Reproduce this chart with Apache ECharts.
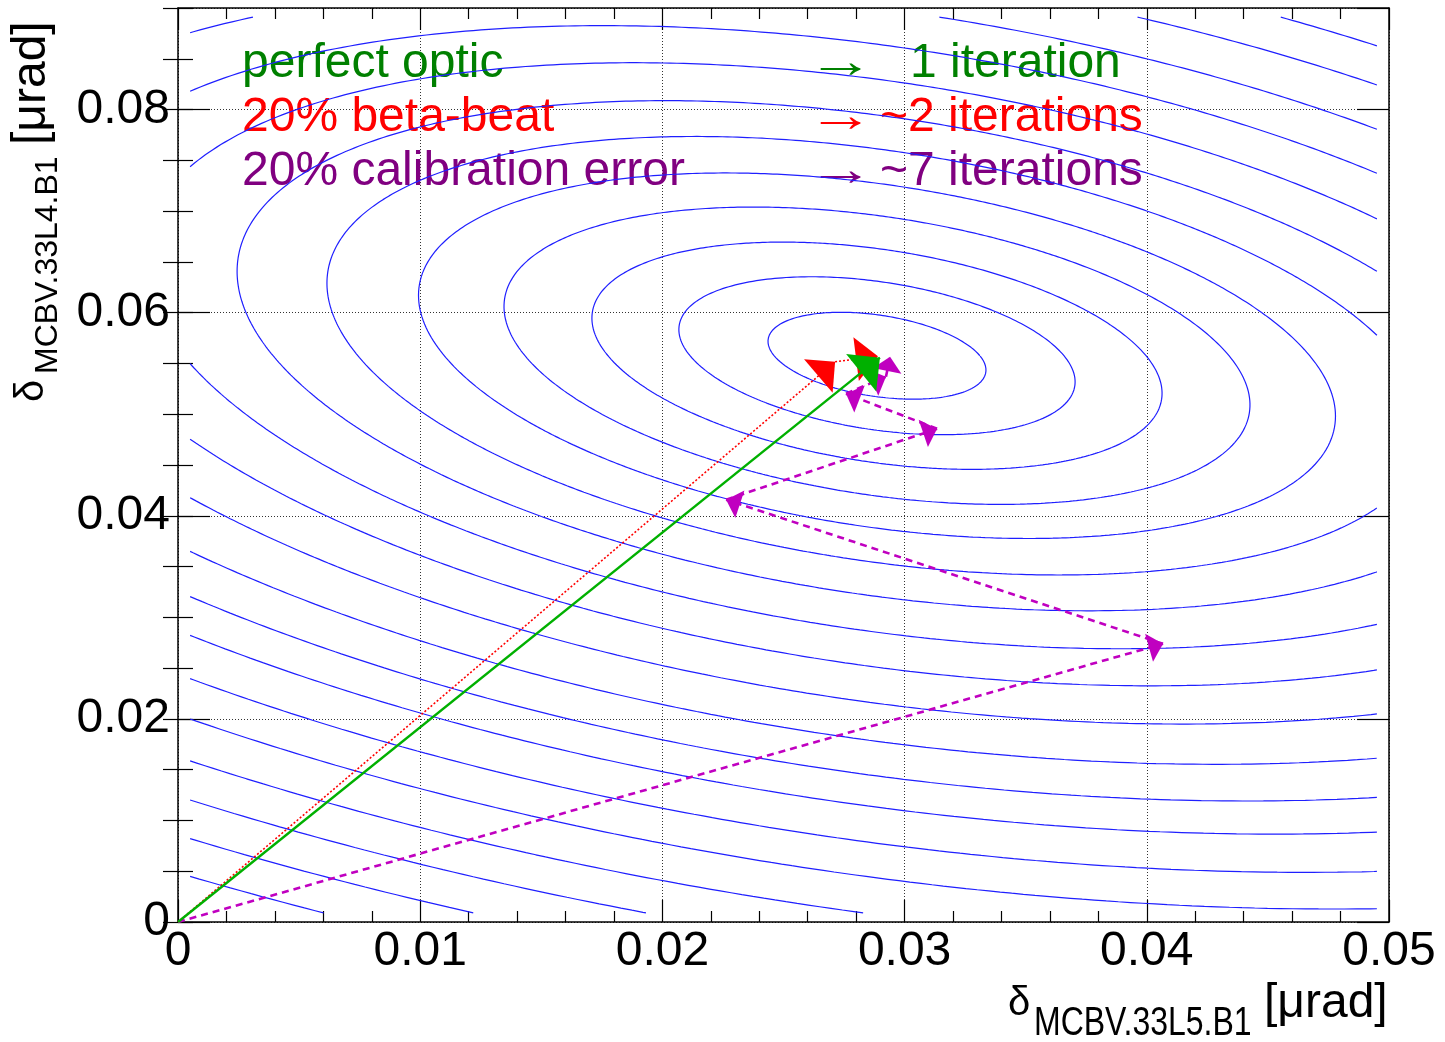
<!DOCTYPE html>
<html>
<head>
<meta charset="utf-8">
<title>orbit correction iterations</title>
<style>
    html, body { margin: 0; padding: 0; background: #fff; }
    #chart { width: 1445px; height: 1042px; }
</style>
</head>
<body>
<div id="chart"></div>
<script src="https://cdn.jsdelivr.net/npm/echarts@6/dist/echarts.min.js"></script>
<script type="text/javascript">
    // axis ranges
    var xRange = [0, 0.05];
    var yRange = [0, 0.09];

    // contour map: centre of the ellipses, shape (dx^2, 2dxdy, dy^2) and the x half-width of every level
    var contourCentre = [0.02886, 0.05576];
    var contourShape = [1, 0.3478, 1.1065];
    var contourHalfWidths = [0.00450, 0.00818, 0.01177, 0.01540, 0.01893, 0.02271, 0.02642,
        0.03035, 0.03419, 0.03815, 0.04232, 0.04612, 0.04955, 0.05351, 0.05731, 0.06135,
        0.06519, 0.06903, 0.07283];
    // histogram bin centres, the contours stop there
    var histX = [0.0005, 0.0495];
    var histY = [0.0009, 0.0891];

    // correction steps
    var perfectPath = [[0, 0], [0.02898, 0.05557]];
    var betaBeatPath = [[0, 0], [0.02713, 0.05517], [0.02890, 0.05570]];
    var calibPath = [[0, 0], [0.04067, 0.02739], [0.02263, 0.04158], [0.03134, 0.04857],
        [0.02758, 0.05202], [0.02923, 0.05369], [0.02940, 0.05567]];

    var caseNames = ['perfect optic', '20% beta-beat', '20% calibration error'];
    var caseIterations = ['1 iteration', '~2 iterations', '~7 iterations'];
    var caseColors = ['#008000', '#ff0000', '#800080'];

    var font = 'Liberation Sans, Arial, Helvetica, sans-serif';

    //one ellipse of the map
    function ellipse(w) {
        var a = contourShape[0], b = contourShape[1], c = contourShape[2];
        var q = w * w * (a - b * b / c);
        var pts = [];
        for (var i = 0; i <= 720; i++) {
            var t = i / 720 * 2 * Math.PI;
            var co = Math.cos(t), si = Math.sin(t);
            var r = Math.sqrt(q / (a * co * co + 2 * b * co * si + c * si * si));
            pts.push([contourCentre[0] + r * co, contourCentre[1] + r * si]);
        }
        return pts;
    }

    //Liang-Barsky clip of one segment to the histogram range
    function clipSeg(p, q) {
        var t0 = 0, t1 = 1;
        var dx = q[0] - p[0], dy = q[1] - p[1];
        var pp = [-dx, dx, -dy, dy];
        var qq = [p[0] - histX[0], histX[1] - p[0], p[1] - histY[0], histY[1] - p[1]];
        for (var i = 0; i < 4; i++) {
            if (pp[i] === 0) {
                if (qq[i] < 0) return null;
            } else {
                var r = qq[i] / pp[i];
                if (pp[i] < 0) { if (r > t1) return null; if (r > t0) t0 = r; }
                else { if (r < t0) return null; if (r < t1) t1 = r; }
            }
        }
        return {
            a: [p[0] + t0 * dx, p[1] + t0 * dy],
            b: [p[0] + t1 * dx, p[1] + t1 * dy],
            cutStart: t0 > 0, cutEnd: t1 < 1
        };
    }

    function clipLine(pts) {
        var parts = [], cur = null;
        for (var i = 0; i < pts.length - 1; i++) {
            var s = clipSeg(pts[i], pts[i + 1]);
            if (!s) {
                if (cur) { parts.push(cur); cur = null; }
                continue;
            }
            if (!cur || s.cutStart) {
                if (cur) parts.push(cur);
                cur = [s.a];
            }
            cur.push(s.b);
            if (s.cutEnd) { parts.push(cur); cur = null; }
        }
        if (cur) parts.push(cur);
        return parts;
    }

    function steps(path) {
        var items = [];
        for (var i = 0; i < path.length - 1; i++) {
            items.push({ coords: [path[i], path[i + 1]] });
        }
        return items;
    }

    // arrow head with its tip at the centre of the symbol box
    var head = 'path://M0,0L14,24L-14,24Z M0,-24';

    var series = [];
    contourHalfWidths.forEach(function (w) {
        clipLine(ellipse(w)).forEach(function (part) {
            series.push({
                type: 'line',
                data: part,
                showSymbol: false,
                symbol: 'none',
                silent: true,
                animation: false,
                z: 3,
                lineStyle: { color: '#1f1fff', width: 1.2 }
            });
        });
    });

    series.push({
        type: 'lines',
        coordinateSystem: 'cartesian2d',
        data: steps(calibPath),
        symbol: ['none', head],
        symbolSize: [17, 29],
        silent: true,
        animation: false,
        z: 5,
        itemStyle: { color: '#c000c0' },
        lineStyle: { color: '#c000c0', width: 2.6, type: [7, 5], opacity: 1 }
    });
    series.push({
        type: 'lines',
        coordinateSystem: 'cartesian2d',
        data: steps(betaBeatPath),
        symbol: ['none', head],
        symbolSize: [26, 44],
        silent: true,
        animation: false,
        z: 6,
        itemStyle: { color: '#ff0000' },
        lineStyle: { color: '#ff0000', width: 1.6, type: [2, 2], opacity: 1 }
    });
    series.push({
        type: 'lines',
        coordinateSystem: 'cartesian2d',
        data: steps(perfectPath),
        symbol: ['none', head],
        symbolSize: [28, 48],
        silent: true,
        animation: false,
        z: 7,
        itemStyle: { color: '#00b000' },
        lineStyle: { color: '#00b000', width: 2.4, type: 'solid', opacity: 1 }
    });

    //legend-like text block
    var graphics = [];
    var rowTop = [40, 94, 148];
    var iterX = [910, 880, 880];
    for (var i = 0; i < caseNames.length; i++) {
        graphics.push({
            type: 'text', x: 242, y: rowTop[i], z: 1,
            style: { text: caseNames[i], fill: caseColors[i], font: '48px ' + font }
        });
        graphics.push({
            type: 'text', x: 807, y: rowTop[i], z: 1, scaleX: 1.4,
            style: { text: '→', fill: caseColors[i], font: '48px ' + font }
        });
        graphics.push({
            type: 'text', x: iterX[i], y: rowTop[i], z: 1,
            style: { text: caseIterations[i], fill: caseColors[i], font: '48px ' + font }
        });
    }

    //axis titles
    graphics.push({
        type: 'group', x: 1008, y: 980,
        children: [
            { type: 'text', x: 0, y: 4, style: { text: 'δ', fill: '#000', font: '40px ' + font } },
            { type: 'text', x: 26, y: 24, scaleX: 0.8, style: { text: 'MCBV.33L5.B1', fill: '#000', font: '40px ' + font } },
            { type: 'text', x: 256, y: 0, style: { text: '[μrad]', fill: '#000', font: '48px ' + font } }
        ]
    });
    graphics.push({
        type: 'group', x: 8, y: 402, rotation: Math.PI / 2,
        children: [
            { type: 'text', x: 0, y: 4, style: { text: 'δ', fill: '#000', font: '40px ' + font } },
            { type: 'text', x: 28, y: 24, style: { text: 'MCBV.33L4.B1', fill: '#000', font: '32px ' + font } },
            { type: 'text', x: 257, y: 0, style: { text: '[μrad]', fill: '#000', font: '48px ' + font } }
        ]
    });

    var frameLine = { show: true, onZero: false, lineStyle: { color: '#000', width: 1.5 } };
    var gridDots = { show: true, lineStyle: { color: '#333', width: 1, type: [1, 2] } };

    var chart = echarts.init(document.getElementById('chart'), null, { renderer: 'canvas' });
    chart.setOption({
        animation: false,
        backgroundColor: '#fff',
        grid: { left: 178, top: 8, width: 1211, height: 914, outerBoundsMode: 'none' },
        xAxis: [{
            type: 'value', min: xRange[0], max: xRange[1], interval: 0.01, position: 'bottom',
            axisLine: frameLine,
            axisTick: { show: true, inside: true, length: 22, lineStyle: { color: '#000', width: 1.2 } },
            minorTick: { show: true, splitNumber: 5, length: 11, lineStyle: { color: '#000', width: 1.2 } },
            axisLabel: { show: true, fontSize: 48, fontFamily: font, color: '#000', margin: 6 },
            splitLine: gridDots
        }, {
            type: 'value', min: xRange[0], max: xRange[1], interval: 0.01, position: 'top',
            axisLine: frameLine,
            axisTick: { show: true, inside: true, length: 22, lineStyle: { color: '#000', width: 1.2 } },
            minorTick: { show: true, splitNumber: 5, length: 11, lineStyle: { color: '#000', width: 1.2 } },
            axisLabel: { show: false },
            splitLine: { show: false }
        }],
        yAxis: [{
            type: 'value', min: yRange[0], max: yRange[1], interval: 0.02, position: 'left',
            axisLine: frameLine,
            axisTick: { show: true, inside: true, length: 32, lineStyle: { color: '#000', width: 1.2 } },
            axisLabel: { show: true, fontSize: 48, fontFamily: font, color: '#000', margin: 8, showMaxLabel: false },
            splitLine: gridDots
        }, {
            type: 'value', min: yRange[0], max: yRange[1], interval: 0.005, position: 'left',
            axisLine: { show: false },
            axisTick: { show: true, inside: true, length: 15, lineStyle: { color: '#000', width: 1.2 } },
            axisLabel: { show: false },
            splitLine: { show: false }
        }, {
            type: 'value', min: yRange[0], max: yRange[1], interval: 0.02, position: 'right',
            axisLine: frameLine,
            axisTick: { show: true, inside: true, length: 32, lineStyle: { color: '#000', width: 1.2 } },
            axisLabel: { show: false },
            splitLine: { show: false }
        }, {
            type: 'value', min: yRange[0], max: yRange[1], interval: 0.005, position: 'right',
            axisLine: { show: false },
            axisTick: { show: true, inside: true, length: 15, lineStyle: { color: '#000', width: 1.2 } },
            axisLabel: { show: false },
            splitLine: { show: false }
        }],
        graphic: graphics,
        series: series
    });
</script>
</body>
</html>
